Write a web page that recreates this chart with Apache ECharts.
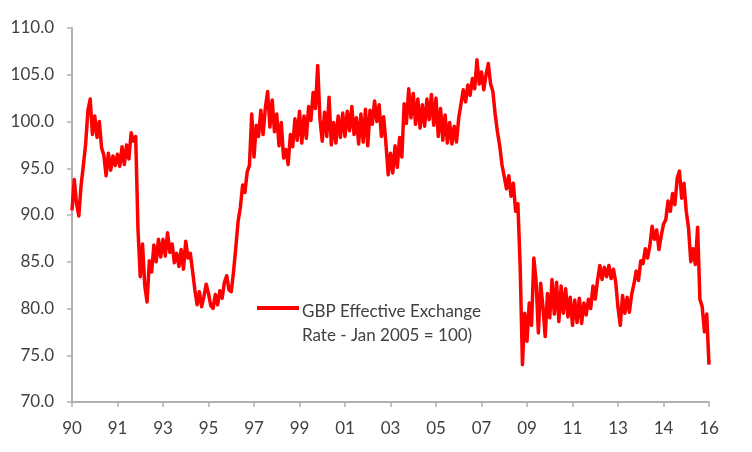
<!DOCTYPE html>
<html>
<head>
    <meta charset="UTF-8">
    <title>GBP Effective Exchange Rate</title>
    <script src="https://cdn.jsdelivr.net/npm/echarts@6/dist/echarts.min.js"></script>
    <style>
        html, body {
            margin: 0;
            padding: 0;
            background: #fff;
        }
        #main {
            width: 752px;
            height: 452px;
        }
    </style>
</head>
<body>
<div id="main"></div>
<script>
    // 数据：约每月一个点，1990 - 2016
    var rate = [
        90.5, 93.8, 91.2, 89.9, 93.2, 95.3, 97.6, 101.2, 102.4, 98.6,
        100.6, 98.3, 100.0, 97.2, 96.4, 94.2, 96.6, 94.8, 96.3, 95.3,
        96.5, 95.2, 97.3, 95.4, 97.5, 96.0, 98.8, 97.9, 98.4, 88.5,
        83.4, 86.9, 82.4, 80.7, 85.1, 83.9, 86.8, 85.0, 87.4, 85.5,
        87.4, 85.6, 88.1, 86.0, 86.9, 84.9, 85.9, 84.5, 86.3, 84.2,
        87.2, 85.4, 85.9, 84.0, 82.0, 80.4, 81.8, 80.2, 81.3, 82.6,
        81.6, 80.3, 80.0, 81.5, 80.4, 81.9, 81.1, 82.8, 83.5, 82.0,
        81.8, 83.9, 86.5, 89.3, 90.8, 93.2, 92.4, 94.6, 95.3, 100.8,
        96.2, 99.6, 98.4, 101.2, 98.6, 101.5, 103.2, 99.4, 102.3, 98.9,
        100.8, 97.4, 99.9, 96.1, 97.0, 95.4, 98.6, 97.3, 100.3, 98.0,
        101.1, 97.7, 100.6, 98.2, 101.6, 100.1, 103.1, 101.4, 106.0, 100.2,
        97.9, 101.0, 98.4, 102.6, 97.5, 99.9, 97.7, 100.6, 98.3, 100.9,
        98.4, 101.1, 99.0, 101.6, 98.6, 100.4, 97.6, 100.8, 97.8, 101.3,
        97.4, 101.2, 99.7, 102.2, 100.0, 101.8, 98.4, 100.5, 97.6, 94.3,
        96.6, 94.5, 97.4, 95.1, 98.3, 96.2, 101.9, 99.8, 103.5, 100.4,
        103.0, 99.7, 102.4, 99.3, 101.8, 99.5, 102.4, 100.2, 102.9, 99.6,
        102.5, 98.4, 101.4, 98.0, 100.7, 97.7, 99.9, 97.6, 99.5, 97.8,
        100.4, 101.9, 103.4, 102.1, 103.9, 102.8, 104.6, 103.5, 106.6, 104.0,
        105.3, 103.4, 105.0, 106.2, 104.0, 103.2, 100.8, 98.9, 97.4, 95.4,
        94.1, 92.8, 94.2, 92.0, 93.4, 90.4, 91.2, 84.5, 74.0, 79.5,
        76.5, 80.6, 78.2, 85.4, 82.9, 77.4, 82.7, 80.2, 77.0, 81.6,
        79.0, 83.1, 79.4, 82.8, 78.6, 82.4, 79.5, 82.1, 79.1, 81.2,
        78.2, 80.9, 78.5, 81.1, 78.4, 80.6, 79.3, 81.0, 80.0, 82.4,
        81.0, 83.0, 84.6, 83.1, 84.4, 83.4, 84.6, 83.2, 84.2, 82.8,
        80.1, 78.2, 81.4, 79.5, 81.2, 79.6, 81.5, 82.6, 84.0, 83.0,
        85.1, 84.8, 86.4, 85.4, 86.7, 88.8, 87.4, 88.4, 86.3, 87.8,
        89.0, 89.5, 91.5, 90.4, 92.3, 91.1, 93.9, 94.7, 91.8, 93.4,
        90.4, 88.6, 85.0, 86.4, 84.7, 88.7, 81.0, 80.2, 77.5, 79.4,
        74.0
    ];
    // 横轴刻度文字（每 20 个点一个刻度）
    var xTickLabels = ['90', '91', '93', '95', '97', '99', '01', '03', '05', '07', '09', '11', '13', '14', '16'];
    var tickStep = 20;
    var categories = rate.map(function (v, i) {
        return 'p' + i;
    });
    var seriesName = 'GBP Effective Exchange\nRate - Jan 2005 = 100)';

    var textColor = '#404040';
    var axisColor = '#b0b0b0';
    var fontFamily = 'Lato, "Open Sans", sans-serif';

    var myChart = echarts.init(document.getElementById('main'));
    var option = {
        animation: false,
        backgroundColor: '#fff',
        grid: {
            left: 72,
            right: 43,
            top: 28,
            bottom: 50
        },
        xAxis: {
            type: 'category',
            data: categories,
            boundaryGap: false,
            axisLine: {lineStyle: {color: axisColor, width: 2}},
            axisTick: {
                show: true,
                interval: tickStep - 1,
                length: 5,
                lineStyle: {color: axisColor, width: 1.5}
            },
            axisLabel: {
                interval: tickStep - 1,
                margin: 18,
                color: textColor,
                fontSize: 17,
                fontFamily: fontFamily,
                formatter: function (value, index) {
                    return xTickLabels[Math.round(index / tickStep)] || '';
                }
            },
            splitLine: {show: false}
        },
        yAxis: {
            type: 'value',
            min: 70,
            max: 110,
            interval: 5,
            axisLine: {show: true, lineStyle: {color: axisColor, width: 2}},
            axisTick: {show: true, length: 5, lineStyle: {color: axisColor, width: 1.5}},
            axisLabel: {
                margin: 18,
                color: textColor,
                fontSize: 17,
                fontFamily: fontFamily,
                formatter: function (v) {
                    return v.toFixed(1);
                }
            },
            splitLine: {show: false}
        },
        graphic: [
            {
                type: 'line',
                shape: {x1: 257, y1: 308, x2: 299, y2: 308},
                style: {stroke: '#ff0000', lineWidth: 4}
            },
            {
                type: 'text',
                left: 302,
                top: 300,
                style: {
                    text: seriesName,
                    fill: textColor,
                    font: '17px ' + fontFamily,
                    lineHeight: 24
                }
            }
        ],
        series: [{
            name: seriesName,
            type: 'line',
            data: rate,
            symbol: 'none',
            lineStyle: {color: '#ff0000', width: 3.5, join: 'round'},
            itemStyle: {color: '#ff0000'}
        }]
    };
    myChart.setOption(option);
</script>
</body>
</html>
